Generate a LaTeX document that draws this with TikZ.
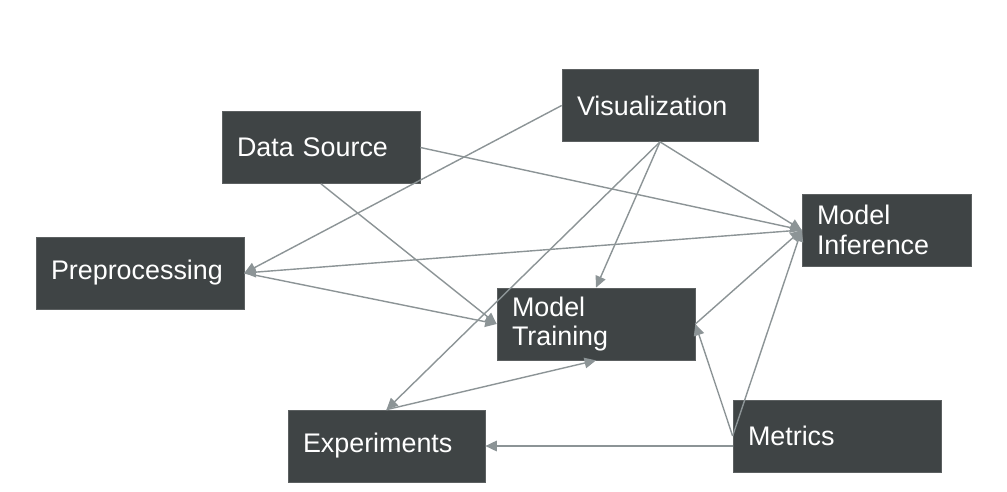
\documentclass[tikz,border=0pt]{standalone}
\usepackage{fontspec}
\setmainfont{Liberation Sans}
\usetikzlibrary{arrows.meta}
\definecolor{boxgray}{RGB}{63,68,69}
\definecolor{linegray}{RGB}{140,148,150}
\begin{document}
\begin{tikzpicture}
        % Define styles for nodes and arrows
        \tikzstyle{box} = [rectangle, minimum height=1.44cm, inner xsep=0.3cm, align=left, text=white, fill=boxgray, draw=boxgray!85!white, font=\fontsize{15.3}{16.8}\selectfont]
        \tikzstyle{arrow} = [draw=linegray, line width=0.8pt, -{Triangle[length=6.5pt,width=6pt]}]

        \useasboundingbox (0,0) rectangle (20.14,-9.84);

        \node (viz) [box, text width=3.32cm] at (13.20,-2.11) {Visualization};
        \node (src) [box, text width=3.36cm] at (6.42,-2.95) {Data Source};
        \node (pre) [box, text width=3.56cm] at (2.80,-5.46) {Preprocessing};
        \node (inf) [box, text width=2.78cm] at (17.73,-4.60) {Model\\Inference};
        \node (train) [box, text width=3.36cm] at (11.92,-6.48) {Model\\Training};
        \node (exp) [box, text width=3.34cm] at (7.73,-8.92) {Experiments};
        \node (met) [box, text width=3.56cm] at (16.74,-8.72) {Metrics};

        % Arrows
        \draw [arrow] (viz.west) -- (pre.east);
        \draw [arrow] (src.east) -- (inf.west);
        \draw [arrow] (src.south) -- (train.west);
        \draw [arrow] (viz.south) -- (inf.west);
        \draw [arrow] (viz.south) -- (train.north);
        \draw [arrow] (viz.south) -- (exp.north);
        \draw [arrow] (inf.west) -- (pre.east);
        \draw [arrow] (pre.east) -- (train.west);
        \draw [arrow] (train.east) -- (inf.west);
        \draw [arrow] (met.west) -- (inf.west);
        \draw [arrow] (met.west) -- (train.east);
        \draw [arrow] (exp.north) -- (train.south);
        \draw [arrow] (met.west |- exp.east) -- (exp.east);
\end{tikzpicture}
\end{document}
